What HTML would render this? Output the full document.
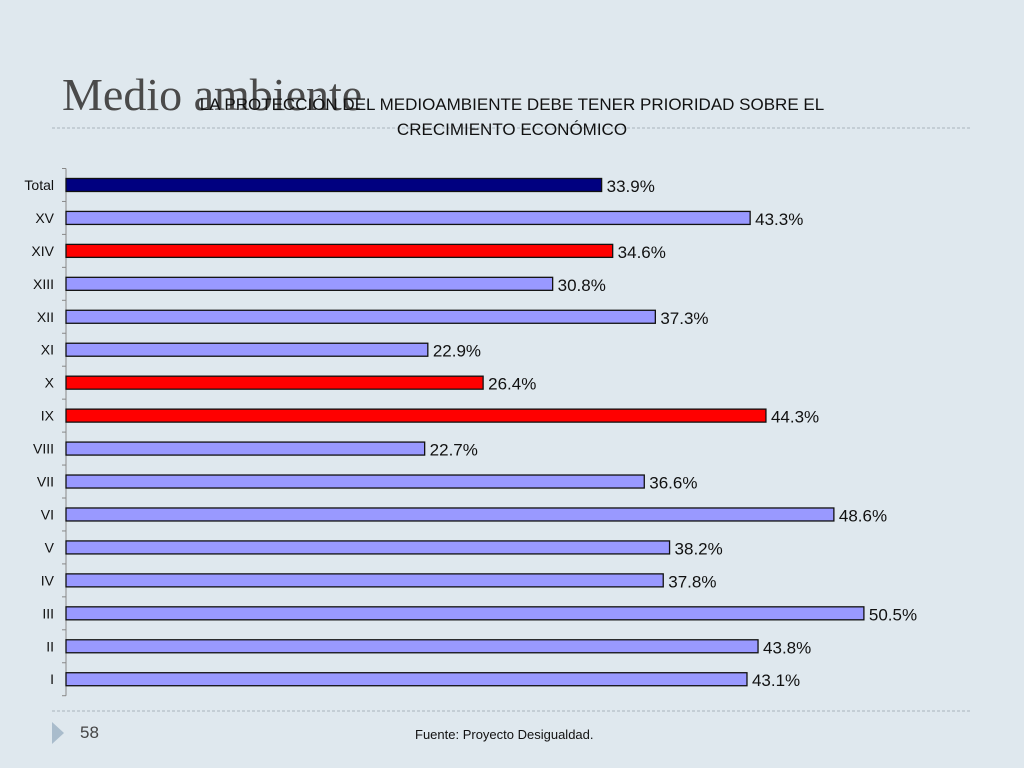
<!DOCTYPE html>
<html><head><meta charset="utf-8"><style>
body{margin:0;width:1024px;height:768px;background:#dfe8ee;overflow:hidden;font-family:"Liberation Sans",sans-serif}
svg{position:absolute;left:0;top:0}
</style></head><body>
<svg width="1024" height="768" id="s">
<text x="62" y="110" font-family="Liberation Serif" font-size="46" fill="#4a4a4a">Medio ambiente</text>
<line x1="52" y1="128" x2="972" y2="128" stroke="#a8b4bc" stroke-dasharray="3,2"/>
<text x="512" y="110" text-anchor="middle" font-size="17" fill="#111">LA PROTECCIÓN DEL MEDIOAMBIENTE DEBE TENER PRIORIDAD SOBRE EL</text>
<text x="512" y="135" text-anchor="middle" font-size="17" fill="#111">CRECIMIENTO ECONÓMICO</text>
<line x1="52" y1="711" x2="972" y2="711" stroke="#a8b4bc" stroke-dasharray="3,2"/>
<polygon points="52,722 64,733 52,744" fill="#a9bccc"/>
<text x="80" y="738" font-size="17" fill="#444">58</text>
<text x="415" y="739" font-size="13" fill="#111">Fuente: Proyecto Desigualdad.</text>
<g id="plot"></g>
</svg>
<script>
const categories=["Total","XV","XIV","XIII","XII","XI","X","IX","VIII","VII","VI","V","IV","III","II","I"];
const values=[33.9,43.3,34.6,30.8,37.3,22.9,26.4,44.3,22.7,36.6,48.6,38.2,37.8,50.5,43.8,43.1];
const colors=["#000080","#9999ff","#ff0000","#9999ff","#9999ff","#9999ff","#ff0000","#ff0000","#9999ff","#9999ff","#9999ff","#9999ff","#9999ff","#9999ff","#9999ff","#9999ff"];
const NS="http://www.w3.org/2000/svg";
const g=document.getElementById('plot');
const x0=66,pxPer=15.8,yTop=168.5,step=32.95,bh=13;
const xs=v=>x0+v*pxPer;
const yc=i=>yTop+step*(i+0.5);
function mk(t,a){const e=document.createElementNS(NS,t);for(const k in a)e.setAttribute(k,a[k]);g.appendChild(e);return e;}
const ax=mk('line',{x1:x0,y1:yTop,x2:x0,y2:yTop+step*categories.length,stroke:'#888'});


for(let i=0;i<=categories.length;i++){
 const t=mk('line',{x1:x0-4,y1:yTop+step*i,x2:x0,y2:yTop+step*i,stroke:'#888'});
 
 
}
categories.forEach((c,i)=>{
 const y=yc(i);
 const l=mk('text',{x:54,y:y+5,'text-anchor':'end','font-size':14,fill:'#111'});l.textContent=c;
 
 
 const r=mk('rect',{x:x0,y:y-bh/2,width:xs(values[i])-x0,height:bh,fill:colors[i],stroke:'#111','stroke-width':1.3});
 
 
 const v=mk('text',{x:xs(values[i])+5,y:y+7,'font-size':17,fill:'#111'});v.textContent=values[i].toFixed(1)+'%';
 
 
});
</script>
</body></html>
